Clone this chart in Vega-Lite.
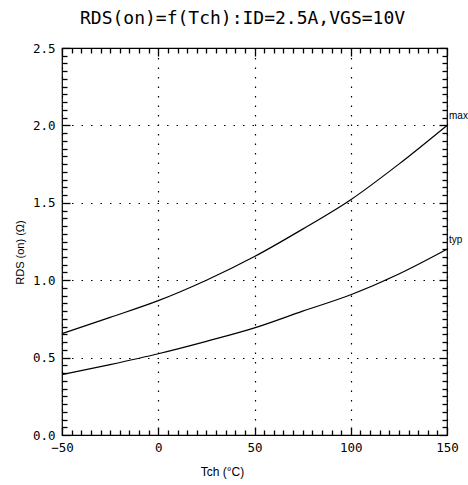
{
  "$schema": "https://vega.github.io/schema/vega-lite/v6.json",
  "width": 385,
  "height": 387,
  "autosize": {"type": "none"},
  "padding": {"left": 62, "top": 48, "right": 21, "bottom": 50},
  "background": "white",
  "config": {
    "view": {"stroke": "black", "strokeWidth": 1.2},
    "axis": {"domain": false, "tickColor": "black", "tickWidth": 1.3, "labelColor": "black", "titleColor": "black", "gridColor": "black", "gridDash": [1.5, 8], "gridWidth": 1.2}
  },
  "title": {
    "text": "RDS(on)=f(Tch):ID=2.5A,VGS=10V",
    "font": "DejaVu Sans Mono",
    "fontSize": 18,
    "fontWeight": "normal",
    "color": "black",
    "anchor": "middle",
    "frame": "group",
    "dx": -12,
    "offset": 14
  },
  "resolve": {"axis": {"x": "independent", "y": "independent"}},
  "layer": [
    {
      "data": {"values": [
        {"Tch": -50, "R": 0.655, "curve": "max"},
        {"Tch": -25, "R": 0.76, "curve": "max"},
        {"Tch": 0, "R": 0.868, "curve": "max"},
        {"Tch": 25, "R": 1.0, "curve": "max"},
        {"Tch": 50, "R": 1.153, "curve": "max"},
        {"Tch": 75, "R": 1.33, "curve": "max"},
        {"Tch": 100, "R": 1.52, "curve": "max"},
        {"Tch": 125, "R": 1.75, "curve": "max"},
        {"Tch": 150, "R": 2.0, "curve": "max"},
        {"Tch": -50, "R": 0.39, "curve": "typ"},
        {"Tch": -25, "R": 0.455, "curve": "typ"},
        {"Tch": 0, "R": 0.525, "curve": "typ"},
        {"Tch": 25, "R": 0.605, "curve": "typ"},
        {"Tch": 50, "R": 0.692, "curve": "typ"},
        {"Tch": 75, "R": 0.8, "curve": "typ"},
        {"Tch": 100, "R": 0.906, "curve": "typ"},
        {"Tch": 125, "R": 1.04, "curve": "typ"},
        {"Tch": 150, "R": 1.2, "curve": "typ"}
      ]},
      "mark": {"type": "line", "color": "black", "strokeWidth": 1.2, "interpolate": "monotone"},
      "encoding": {
        "x": {
          "field": "Tch", "type": "quantitative",
          "scale": {"domain": [-50, 150], "nice": false, "zero": false},
          "axis": {
            "orient": "bottom",
            "title": "Tch (°C)",
            "titleFont": "Liberation Sans", "titleFontSize": 12, "titleFontWeight": "normal",
            "titleX": 160, "titleY": 36, "titleBaseline": "middle", "titleAlign": "center",
            "values": [-50,-45,-40,-35,-30,-25,-20,-15,-10,-5,0,5,10,15,20,25,30,35,40,45,50,55,60,65,70,75,80,85,90,95,100,105,110,115,120,125,130,135,140,145,150],
            "tickSize": {"condition": {"test": "datum.value % 50 === 0", "value": -8}, "value": -5},
            "gridOpacity": {"condition": {"test": "datum.value % 50 === 0", "value": 1}, "value": 0},
            "grid": true,
            "labelExpr": "datum.value % 50 === 0 ? datum.label : ''",
            "labelFont": "DejaVu Sans Mono", "labelFontSize": 12.5,
            "labelPadding": 14, "labelFlush": false, "labelOverlap": false
          }
        },
        "y": {
          "field": "R", "type": "quantitative",
          "scale": {"domain": [0, 2.5], "nice": false},
          "axis": {
            "orient": "left",
            "title": "RDS (on) (Ω)",
            "titleFont": "Liberation Sans", "titleFontSize": 11, "titleFontWeight": "normal",
            "titleAngle": -90, "titleX": -42, "titleY": 204, "titleBaseline": "middle", "titleAlign": "center",
            "values": [0,0.05,0.1,0.15,0.2,0.25,0.3,0.35,0.4,0.45,0.5,0.55,0.6,0.65,0.7,0.75,0.8,0.85,0.9,0.95,1,1.05,1.1,1.15,1.2,1.25,1.3,1.35,1.4,1.45,1.5,1.55,1.6,1.65,1.7,1.75,1.8,1.85,1.9,1.95,2,2.05,2.1,2.15,2.2,2.25,2.3,2.35,2.4,2.45,2.5],
            "tickSize": {"condition": {"test": "abs(datum.value*2 - round(datum.value*2)) < 0.001", "value": -8}, "value": -5},
            "gridOpacity": {"condition": {"test": "abs(datum.value*2 - round(datum.value*2)) < 0.001", "value": 1}, "value": 0},
            "grid": true,
            "format": ".1f",
            "labelExpr": "abs(datum.value*2 - round(datum.value*2)) < 0.001 ? datum.label : ''",
            "labelFont": "DejaVu Sans Mono", "labelFontSize": 12.5,
            "labelPadding": 15, "labelFlush": false, "labelOverlap": false
          }
        },
        "detail": {"field": "curve"}
      }
    },
    {
      "data": {"values": [
        {"Tch": 150, "R": 2.0, "label": "max"},
        {"Tch": 150, "R": 1.2, "label": "typ"}
      ]},
      "mark": {"type": "text", "align": "left", "baseline": "bottom", "dx": 2, "dy": -4, "font": "Liberation Sans", "fontSize": 10, "color": "black"},
      "encoding": {
        "x": {
          "field": "Tch", "type": "quantitative",
          "axis": {
            "orient": "top", "title": null, "labels": false, "grid": false,
            "values": [-50,-45,-40,-35,-30,-25,-20,-15,-10,-5,0,5,10,15,20,25,30,35,40,45,50,55,60,65,70,75,80,85,90,95,100,105,110,115,120,125,130,135,140,145,150],
            "tickSize": {"condition": {"test": "datum.value % 50 === 0", "value": -8}, "value": -5}
          }
        },
        "y": {
          "field": "R", "type": "quantitative",
          "axis": {
            "orient": "right", "title": null, "labels": false, "grid": false,
            "values": [0,0.05,0.1,0.15,0.2,0.25,0.3,0.35,0.4,0.45,0.5,0.55,0.6,0.65,0.7,0.75,0.8,0.85,0.9,0.95,1,1.05,1.1,1.15,1.2,1.25,1.3,1.35,1.4,1.45,1.5,1.55,1.6,1.65,1.7,1.75,1.8,1.85,1.9,1.95,2,2.05,2.1,2.15,2.2,2.25,2.3,2.35,2.4,2.45,2.5],
            "tickSize": {"condition": {"test": "abs(datum.value*2 - round(datum.value*2)) < 0.001", "value": -8}, "value": -5}
          }
        },
        "text": {"field": "label"}
      }
    }
  ]
}
